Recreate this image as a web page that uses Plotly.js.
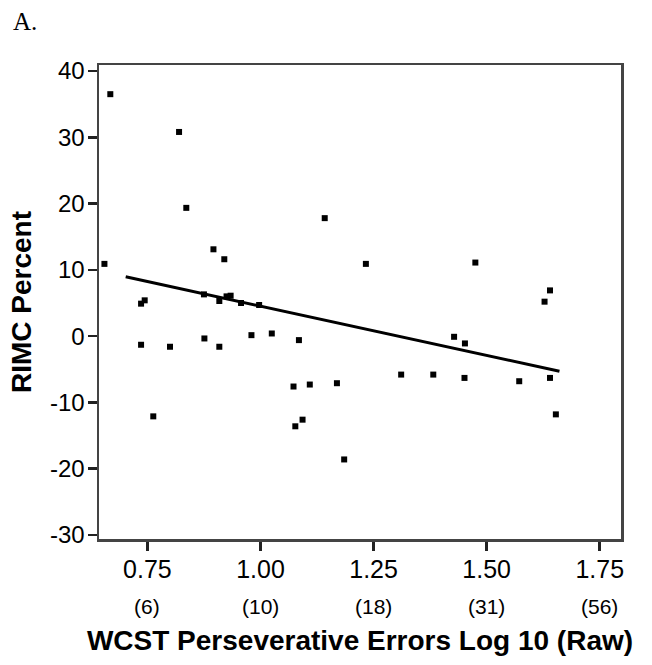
<!DOCTYPE html>
<html>
<head>
<meta charset="utf-8">
<script src="https://cdn.plot.ly/plotly-3.0.1.min.js"></script>
<style>
  html, body { margin: 0; padding: 0; background: #fff; }
  #chart { width: 652px; height: 665px; }
</style>
</head>
<body>
<div id="chart"></div>
<script>
// WCST perseverative errors (log10) vs RIMC percent
const xLog = [0.668, 0.820, 0.836, 1.142, 0.655, 0.896, 0.920, 1.233, 1.475, 1.640,
              1.628, 0.736, 0.744, 0.875, 0.909, 0.925, 0.934, 0.957, 0.997, 0.736,
              0.800, 0.876, 0.909, 0.980, 1.025, 1.085, 1.073, 1.109, 1.169, 0.763,
              1.093, 1.077, 1.185, 1.428, 1.452, 1.311, 1.382, 1.451, 1.572, 1.640,
              1.653];
const rimc = [36.5, 30.8, 19.35, 17.8, 10.9, 13.1, 11.6, 10.9, 11.1, 6.9,
              5.2, 4.9, 5.4, 6.3, 5.3, 6.0, 6.1, 5.0, 4.7, -1.3,
              -1.6, -0.35, -1.6, 0.15, 0.4, -0.6, -7.6, -7.3, -7.1, -12.1,
              -12.6, -13.6, -18.6, -0.1, -1.1, -5.8, -5.8, -6.3, -6.8, -6.3,
              -11.8];

// fitted regression line (end points)
const fitX = [0.702, 1.661];
const fitY = [8.95, -5.3];

// axis ticks
const xTicks = [0.75, 1.00, 1.25, 1.50, 1.75];
const xTickText = ['0.75', '1.00', '1.25', '1.50', '1.75'];
const rawLabels = ['(6)', '(10)', '(18)', '(31)', '(56)'];
const yTicks = [-30, -20, -10, 0, 10, 20, 30, 40];
const yTickText = ['-30', '-20', '-10', '0', '10', '20', '30', '40'];

const traces = [
  {
    x: xLog, y: rimc, type: 'scatter', mode: 'markers',
    marker: { symbol: 'square', size: 6, color: '#000' },
    hoverinfo: 'x+y', showlegend: false
  },
  {
    x: fitX, y: fitY, type: 'scatter', mode: 'lines',
    line: { color: '#000', width: 3 },
    hoverinfo: 'skip', showlegend: false
  }
];

const annotations = rawLabels.map((t, i) => ({
  x: xTicks[i], xref: 'x', y: -0.143, yref: 'paper',
  text: t, showarrow: false, xanchor: 'center', yanchor: 'middle',
  font: { family: 'Liberation Sans, Arial, sans-serif', size: 21, color: '#000' }
}));
annotations.push({
  x: -0.169, xref: 'paper', y: 1.092, yref: 'paper',
  text: 'A.', showarrow: false, xanchor: 'left', yanchor: 'middle',
  font: { family: 'Liberation Serif, Times New Roman, serif', size: 25, color: '#000' }
});

const layout = {
  width: 652, height: 665,
  margin: { l: 99, r: 31, t: 65, b: 126 },
  paper_bgcolor: '#fff', plot_bgcolor: '#fff',
  font: { family: 'Liberation Sans, Arial, sans-serif', color: '#000' },
  xaxis: {
    range: [0.643, 1.797],
    tickvals: xTicks, ticktext: xTickText,
    ticks: 'outside', ticklen: 9, tickwidth: 2.5, tickcolor: '#222',
    showline: true, mirror: true, linecolor: '#444', linewidth: 2.5,
    showgrid: false, zeroline: false,
    tickfont: { size: 25, color: '#000' },
    ticklabelstandoff: -3,
    title: {
      text: '<b>WCST Perseverative Errors Log 10 (Raw)</b>',
      font: { size: 28, color: '#000' },
      standoff: 49
    }
  },
  yaxis: {
    range: [-30.6, 40.9],
    tickvals: yTicks, ticktext: yTickText,
    ticks: 'outside', ticklen: 9, tickwidth: 2.5, tickcolor: '#222',
    showline: true, mirror: true, linecolor: '#444', linewidth: 2.5,
    showgrid: false, zeroline: false,
    tickfont: { size: 24, color: '#000' },
    ticklabelstandoff: -2,
    title: {
      text: '<b>RIMC Percent</b>',
      font: { size: 28, color: '#000' },
      standoff: 10
    }
  },
  annotations: annotations
};

Plotly.newPlot('chart', traces, layout, { displayModeBar: false, staticPlot: true });
</script>
</body>
</html>
